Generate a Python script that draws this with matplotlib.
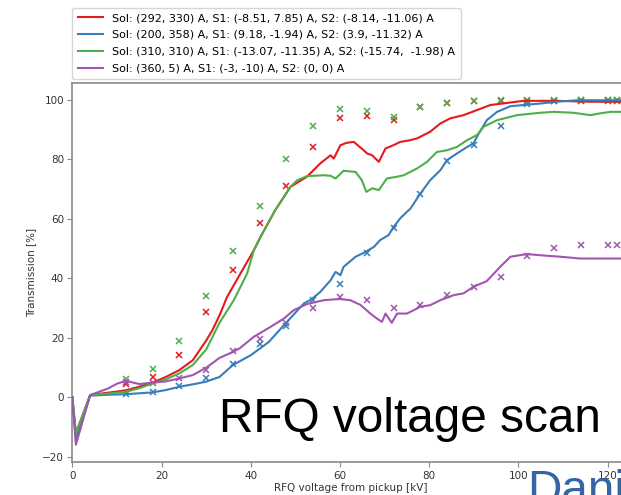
import matplotlib
matplotlib.use("Agg")
import matplotlib.pyplot as plt

# ---------------- data ----------------
labels = [
    "Sol: (292, 330) A, S1: (-8.51, 7.85) A, S2: (-8.14, -11.06) A",
    "Sol: (200, 358) A, S1: (9.18, -1.94) A, S2: (3.9, -11.32) A",
    "Sol: (310, 310) A, S1: (-13.07, -11.35) A, S2: (-15.74,  -1.98) A",
    "Sol: (360, 5) A, S1: (-3, -10) A, S2: (0, 0) A",
]
colors = ["#e41a1c", "#377eb8", "#4daf4a", "#a155b0"]

# continuous scans
red_x = [0, 0.8, 4, 8, 12, 15, 18, 21, 24, 27, 30, 31.4, 33, 34.7, 37.7, 40.7, 42.2, 45.5, 48.9,
         52.6, 55.6, 57.9, 58.6, 60.1, 61.5, 63.1, 65.3, 66.1, 67.2, 68.7, 70.2, 72.0, 73.5, 75.5,
         77.3, 80.2, 82.5, 84.7, 87.7, 90.7, 93.7, 97.4, 101.1, 108.6, 116.1, 125]
red_y = [0, -12.2, 0.7, 1.5, 2.3, 3.5, 4.9, 6.8, 9.1, 12.4, 19.0, 22.5, 27.5, 33.7, 41.6, 49.4, 53.9,
         62.9, 70.7, 74.1, 78.6, 81.3, 80.2, 84.7, 85.5, 85.8, 83.0, 81.9, 81.3, 79.1, 83.6, 84.7,
         85.8, 86.3, 87.0, 89.2, 92.0, 93.7, 94.8, 96.5, 98.2, 98.9, 99.6, 99.6, 99.3, 99.3]

blue_x = [0, 0.8, 4, 8, 12, 18, 21, 24, 27, 30, 33, 36, 40, 44, 47.8, 51.9, 53.6, 55.6, 57.9, 59.0,
          60.1, 60.8, 63.5, 65.7, 67.6, 69.0, 70.9, 72.0, 73.5, 75.0, 75.8, 77.9, 80.2, 82.5, 84.0,
          86.2, 88.5, 89.9, 91.1, 92.9, 95.2, 98.2, 101.1, 104.9, 108.6, 113.1, 125]
blue_y = [0, -14.0, 0.5, 0.8, 1.0, 1.6, 2.4, 3.5, 4.3, 5.2, 6.8, 10.8, 14.1, 18.5, 24.8, 31.5, 32.9,
          35.4, 39.3, 42.1, 41.0, 43.8, 47.2, 48.8, 50.5, 52.8, 54.5, 57.2, 60.1, 62.3, 63.4, 68.2,
          72.9, 76.3, 79.7, 81.9, 84.1, 85.3, 88.6, 93.1, 95.9, 97.8, 98.2, 98.7, 99.3, 99.8, 99.8]

green_x = [0, 0.8, 4, 8, 12, 15, 18, 21, 24, 27, 30, 33, 36.2, 39.2, 40.7, 42.2, 45.5, 48.9, 50.4,
           52.6, 56.4, 57.9, 59.0, 60.8, 63.5, 64.9, 65.9, 67.2, 68.7, 70.5, 72.8, 74.3, 77.3, 79.5,
           81.7, 84.0, 86.2, 88.5, 90.7, 92.2, 95.2, 99.7, 104.9, 107.9, 112.3, 116.1, 118.3, 120.6, 125]
green_y = [0, -12.2, 0.7, 1.2, 1.8, 3.0, 4.6, 6.0, 8.0, 10.8, 16.0, 25.0, 32.6, 41.6, 49.4, 53.9,
           62.9, 70.7, 72.9, 74.3, 74.6, 74.4, 73.5, 76.1, 75.7, 72.9, 69.0, 70.2, 69.6, 73.5, 74.1,
           74.6, 76.9, 79.1, 82.4, 83.0, 84.1, 86.4, 88.1, 90.9, 93.1, 94.8, 95.6, 95.9, 95.6, 94.8,
           95.4, 95.9, 95.9]

purple_x = [0, 0.8, 4, 8, 10, 12, 15, 18, 21, 24, 27, 30, 33, 36, 37.5, 40.7, 44.4, 47.4, 49.6, 52.6,
            56.4, 59.9, 62.3, 64.6, 66.8, 68.3, 69.4, 70.2, 71.6, 72.8, 75.0, 76.5, 78.0, 80.2, 82.5,
            85.5, 87.7, 89.9, 92.9, 95.9, 98.2, 101.9, 104.9, 109.4, 113.9, 118.3, 125]
purple_y = [0, -16.0, 0.7, 2.9, 4.5, 5.5, 4.4, 4.9, 5.3, 6.3, 7.4, 9.9, 13.2, 15.2, 16.4, 20.3, 23.6,
            26.4, 29.2, 31.3, 32.6, 33.0, 32.6, 31.0, 28.1, 26.4, 25.3, 28.1, 25.0, 28.1, 28.1, 29.2,
            30.4, 30.9, 32.6, 34.3, 34.9, 37.1, 39.0, 43.8, 47.2, 48.1, 47.7, 47.2, 46.6, 46.6, 46.6]

# discrete measurements (x markers)
meas_x = [12, 18, 24, 30, 36, 42, 48, 54, 60, 66, 72, 78, 84, 90, 96, 102, 108, 114, 120, 122]
red_m = [4.3, 6.8, 14.1, 28.6, 42.7, 58.4, 70.9, 84.1, 93.9, 94.5, 93.3, 97.4, 98.8, 99.4, 99.7,
         99.7, 99.7, 99.7, 99.7, 99.7]
blue_m = [1.0, 1.6, 3.8, 6.6, 11.1, 17.8, 23.9, 32.8, 38.2, 48.5, 56.9, 68.2, 79.3, 84.7, 91.1,
          98.5, 99.5, 99.8, 99.8, 99.8]
green_m = [6.0, 9.6, 18.8, 34.0, 49.2, 64.2, 80.0, 91.2, 96.8, 96.2, 94.2, 97.6, 99.0, 99.6, 99.8,
           99.8, 99.8, 99.8, 99.8, 99.8]
purple_m = [5.1, 4.6, 6.5, 9.0, 15.5, 19.5, 24.8, 30.0, 33.5, 32.6, 30.1, 30.9, 34.3, 37.1, 40.4,
            47.5, 50.2, 51.1, 51.1, 51.1]

x_ticks = [0, 20, 40, 60, 80, 100, 120]
y_ticks = [-20, 0, 20, 40, 60, 80, 100]

# ---------------- figure ----------------
W, H = 621, 495
fig = plt.figure(figsize=(W / 100, H / 100), dpi=100)
fig.patch.set_facecolor("white")

def fx(px):
    return px / W

def fy(py):
    return 1 - py / H

ax = fig.add_axes([fx(72.3), fy(462.3), fx(630) - fx(72.3), fy(83.3) - fy(462.3)])

lines_x = [red_x, blue_x, green_x, purple_x]
lines_y = [red_y, blue_y, green_y, purple_y]
marks = [red_m, blue_m, green_m, purple_m]

handles = []
for lx, ly, m, c, lab in zip(lines_x, lines_y, marks, colors, labels):
    h, = ax.plot(lx, ly, color=c, lw=1.5, label=lab, zorder=3)
    ax.plot(meas_x, m, linestyle="none", marker="x", color=c, ms=5, mew=1.1, zorder=2)
    handles.append(h)

ax.set_xlim(0, 125)
ax.set_ylim(-21.9, 105.5)
ax.set_xticks(x_ticks)
ax.set_yticks(y_ticks)

for s in ax.spines.values():
    s.set_color("#8a8a8a")
    s.set_linewidth(1.2)
ax.tick_params(colors="#8a8a8a", labelcolor="#333333", labelsize=7.5, length=3.5, pad=2.5)

ax.set_xlabel("RFQ voltage from pickup [kV]", fontsize=7.5, color="#333333", labelpad=1.5)
ax.set_ylabel("Transmission [%]", fontsize=7.5, color="#333333", labelpad=4)

fig.legend(handles=handles, labels=labels, loc="upper left",
           bbox_to_anchor=(fx(72), fy(7.5)), fontsize=8, handlelength=2.3,
           labelspacing=0.62, borderpad=0.5, frameon=True, edgecolor="#cccccc",
           borderaxespad=0)

fig.text(fx(219), fy(432), "RFQ voltage scan", fontsize=34.4, family="Liberation Sans",
         color="black", ha="left", va="baseline")
fig.text(fx(527), fy(504), "Dani", fontsize=34.4, family="Liberation Sans",
         color="#3465a4", ha="left", va="baseline")

fig.savefig("out.png", dpi=100)
